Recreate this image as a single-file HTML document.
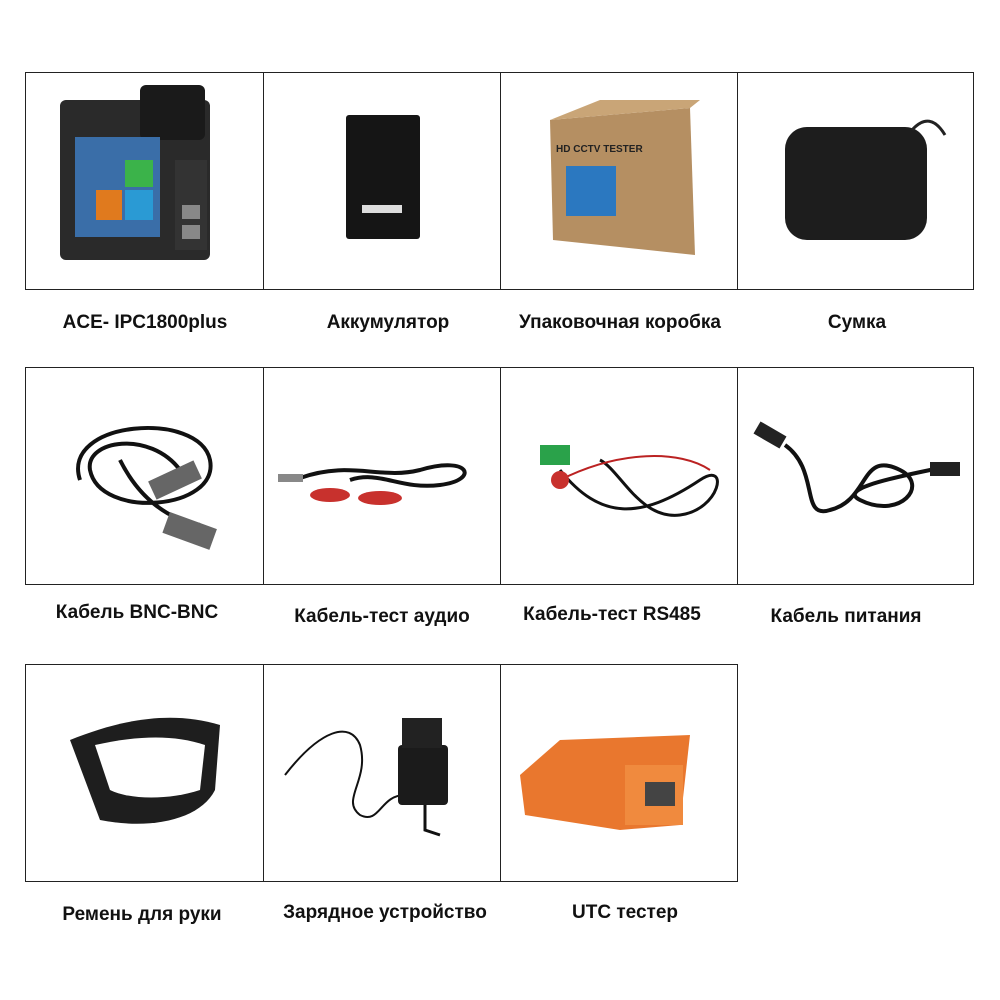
<!DOCTYPE html>
<html><head><meta charset="utf-8"><style>
html,body{margin:0;padding:0;background:#fff;}
body{width:1000px;height:1000px;position:relative;overflow:hidden;font-family:"Liberation Sans",sans-serif;}
.c{position:absolute;border:1px solid #222;box-sizing:border-box;}
.l{position:absolute;font-weight:bold;font-size:19px;color:#111;text-align:center;width:240px;}
svg{position:absolute;left:0;top:0;}
</style></head><body>
<div class="c" style="left:25px;top:72px;width:239px;height:218px"></div>
<div class="c" style="left:263px;top:72px;width:238px;height:218px"></div>
<div class="c" style="left:500px;top:72px;width:238px;height:218px"></div>
<div class="c" style="left:737px;top:72px;width:237px;height:218px"></div>
<div class="c" style="left:25px;top:367px;width:239px;height:218px"></div>
<div class="c" style="left:263px;top:367px;width:238px;height:218px"></div>
<div class="c" style="left:500px;top:367px;width:238px;height:218px"></div>
<div class="c" style="left:737px;top:367px;width:237px;height:218px"></div>
<div class="c" style="left:25px;top:664px;width:239px;height:218px"></div>
<div class="c" style="left:263px;top:664px;width:238px;height:218px"></div>
<div class="c" style="left:500px;top:664px;width:238px;height:218px"></div>

<svg width="1000" height="1000" viewBox="0 0 1000 1000">
<rect x="60" y="100" width="150" height="160" rx="6" fill="#2a2a2a"/>
<rect x="140" y="85" width="65" height="55" rx="6" fill="#1a1a1a"/>
<rect x="75" y="137" width="85" height="100" fill="#3a6ea8"/>
<rect x="96" y="190" width="26" height="30" fill="#e07a1e"/>
<rect x="125" y="190" width="28" height="30" fill="#2a9ad4"/>
<rect x="125" y="160" width="28" height="27" fill="#3bb34a"/>
<rect x="175" y="160" width="32" height="90" fill="#333"/>
<rect x="182" y="205" width="18" height="14" fill="#888"/>
<rect x="182" y="225" width="18" height="14" fill="#888"/>
<rect x="346" y="115" width="74" height="124" rx="3" fill="#151515"/>
<rect x="362" y="205" width="40" height="8" fill="#ddd"/>
<polygon points="550,120 690,108 695,255 553,240" fill="#b58f62"/>
<polygon points="550,120 600,100 700,100 690,108" fill="#c9a577"/>
<rect x="566" y="166" width="50" height="50" fill="#2b78c0"/>
<text x="556" y="152" font-size="10" font-weight="bold" fill="#222">HD CCTV TESTER</text>
<rect x="785" y="127" width="142" height="113" rx="22" fill="#1d1d1d"/>
<path d="M912,130 Q930,110 945,135" stroke="#222" stroke-width="3" fill="none"/>
<path d="M80,480 C60,420 200,410 210,460 C220,510 100,520 90,470 C85,440 150,430 180,470 M120,460 C140,500 170,520 200,525" stroke="#111" stroke-width="4" fill="none"/>
<rect x="150" y="470" width="50" height="20" fill="#666" transform="rotate(-25 175 480)"/>
<rect x="165" y="520" width="50" height="22" fill="#666" transform="rotate(20 190 530)"/>
<path d="M300,478 C350,460 380,480 420,470 C470,455 480,480 440,485 C400,490 380,470 350,480" stroke="#111" stroke-width="4" fill="none"/>
<rect x="278" y="474" width="25" height="8" fill="#888"/>
<ellipse cx="330" cy="495" rx="20" ry="7" fill="#c8312d"/>
<ellipse cx="380" cy="498" rx="22" ry="7" fill="#c8312d"/>
<path d="M560,470 C600,520 640,520 700,480 C730,460 720,510 680,515 C640,520 620,470 600,460" stroke="#111" stroke-width="3" fill="none"/>
<path d="M560,480 C620,450 680,450 710,470" stroke="#b22" stroke-width="2" fill="none"/>
<rect x="540" y="445" width="30" height="20" fill="#2aa24a"/>
<circle cx="560" cy="480" r="9" fill="#c8312d"/>
<path d="M785,445 C820,470 800,520 830,510 C870,500 860,450 900,470 C930,485 900,520 860,500 C840,490 880,480 940,468" stroke="#111" stroke-width="4" fill="none"/>
<rect x="755" y="428" width="30" height="14" fill="#222" transform="rotate(30 770 435)"/>
<rect x="930" y="462" width="30" height="14" fill="#222"/>
<path d="M70,740 C120,720 170,710 220,725 L215,790 C200,820 150,830 100,820 Z" fill="#1e1e1e"/>
<path d="M95,745 C140,735 175,735 205,745 L200,790 C170,800 130,800 110,790 Z" fill="#fff"/>
<path d="M285,775 C320,730 350,720 360,745 C370,780 340,800 360,815 C380,825 380,795 405,795" stroke="#111" stroke-width="2" fill="none"/>
<rect x="398" y="745" width="50" height="60" rx="4" fill="#1b1b1b"/>
<rect x="402" y="718" width="40" height="30" fill="#222"/>
<path d="M425,805 L425,830 L440,835" stroke="#111" stroke-width="3" fill="none"/>
<polygon points="520,775 560,740 690,735 680,825 620,830 525,815" fill="#e9772e"/>
<rect x="625" y="765" width="58" height="60" fill="#f08a3e"/>
<rect x="645" y="782" width="30" height="24" fill="#444"/>
</svg>

<div class="l" style="left:25px;top:312px">ACE- IPC1800plus</div>
<div class="l" style="left:268px;top:312px">Аккумулятор</div>
<div class="l" style="left:500px;top:312px">Упаковочная коробка</div>
<div class="l" style="left:737px;top:312px">Сумка</div>
<div class="l" style="left:17px;top:602px">Кабель BNC-BNC</div>
<div class="l" style="left:262px;top:606px">Кабель-тест аудио</div>
<div class="l" style="left:492px;top:604px">Кабель-тест RS485</div>
<div class="l" style="left:726px;top:606px">Кабель питания</div>
<div class="l" style="left:22px;top:904px">Ремень для руки</div>
<div class="l" style="left:265px;top:902px">Зарядное устройство</div>
<div class="l" style="left:505px;top:902px">UTC тестер</div>
</body></html>
